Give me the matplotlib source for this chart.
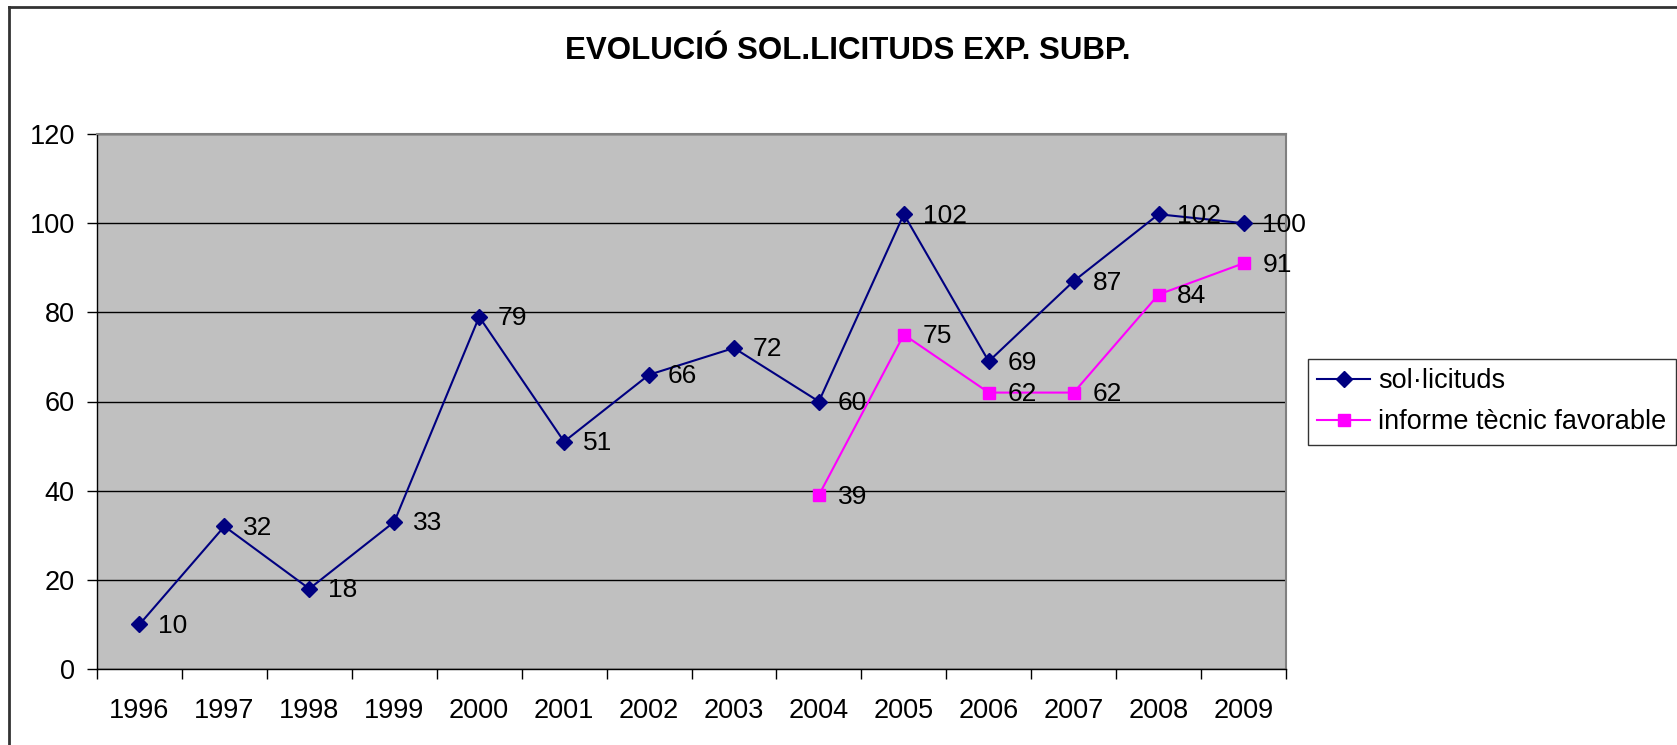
import matplotlib
matplotlib.use("Agg")
import matplotlib.pyplot as plt
from matplotlib.lines import Line2D

plt.rcParams['font.family'] = ['Liberation Sans', 'DejaVu Sans']

years = ['1996', '1997', '1998', '1999', '2000', '2001', '2002', '2003',
         '2004', '2005', '2006', '2007', '2008', '2009']
solicituds = [10, 32, 18, 33, 79, 51, 66, 72, 60, 102, 69, 87, 102, 100]
informe_years = ['2004', '2005', '2006', '2007', '2008', '2009']
informe = [39, 75, 62, 62, 84, 91]

W, H = 1677, 745
fig = plt.figure(figsize=(W / 100, H / 100), dpi=100)
ax = fig.add_axes([97 / W, 1 - 669 / H, (1286 - 97) / W, (669 - 134) / H])
ax.set_facecolor('#C0C0C0')

x_sol = list(range(len(years)))
x_inf = [years.index(y) for y in informe_years]

ax.plot(x_sol, solicituds, color='#000080', lw=1.5, marker='D', ms=8.5,
        markerfacecolor='#000080', markeredgecolor='#000080', label='sol·licituds', zorder=3)
ax.plot(x_inf, informe, color='#FF00FF', lw=1.5, marker='s', ms=8,
        markerfacecolor='#FF00FF', markeredgecolor='#FF00FF', label='informe tècnic favorable', zorder=3)

for xi, v in zip(x_sol, solicituds):
    ax.annotate(str(v), (xi, v), xytext=(13.5, -1), textcoords='offset points',
                ha='left', va='center', fontsize=19, color='black', zorder=4)
for xi, v in zip(x_inf, informe):
    ax.annotate(str(v), (xi, v), xytext=(13.5, -1), textcoords='offset points',
                ha='left', va='center', fontsize=19, color='black', zorder=4)

ax.set_xlim(-0.5, len(years) - 0.5)
ax.set_ylim(0, 120)
ax.set_yticks(range(0, 121, 20))
ax.yaxis.grid(True, color='black', lw=1)
ax.set_axisbelow(True)

ax.set_xticks([i - 0.5 for i in range(len(years) + 1)])
ax.set_xticklabels([])
ax.set_xticks(x_sol, minor=True)
ax.set_xticklabels(years, minor=True, fontsize=19.5)
ax.tick_params(axis='x', which='major', direction='out', length=7, width=1, color='black')
ax.tick_params(axis='x', which='minor', length=0, pad=21)
ax.tick_params(axis='y', direction='out', length=7, width=1, labelsize=19.5, pad=9)

for s in ['top', 'right']:
    ax.spines[s].set_color('#808080')
    ax.spines[s].set_linewidth(1.5)
for s in ['left', 'bottom']:
    ax.spines[s].set_color('black')
    ax.spines[s].set_linewidth(1)

fig.text(848 / W, 1 - 51 / H, 'EVOLUCIÓ SOL.LICITUDS EXP. SUBP.', ha='center', va='center',
         fontsize=22.5, fontweight='bold')

leg = fig.legend(loc='upper left', bbox_to_anchor=(1308 / W, 1 - 359 / H),
                 fontsize=19.5, frameon=True, fancybox=False, edgecolor='black',
                 handlelength=1.95, borderpad=0.35, labelspacing=0.55, handletextpad=0.3,
                 borderaxespad=0)
leg.get_frame().set_linewidth(1)

fig.add_artist(Line2D([9 / W, 1], [1 - 7 / H, 1 - 7 / H], color='#333333', lw=2, transform=fig.transFigure))
fig.add_artist(Line2D([9 / W, 9 / W], [0, 1 - 7 / H], color='#333333', lw=2, transform=fig.transFigure))

fig.savefig('out.png', dpi=100)
